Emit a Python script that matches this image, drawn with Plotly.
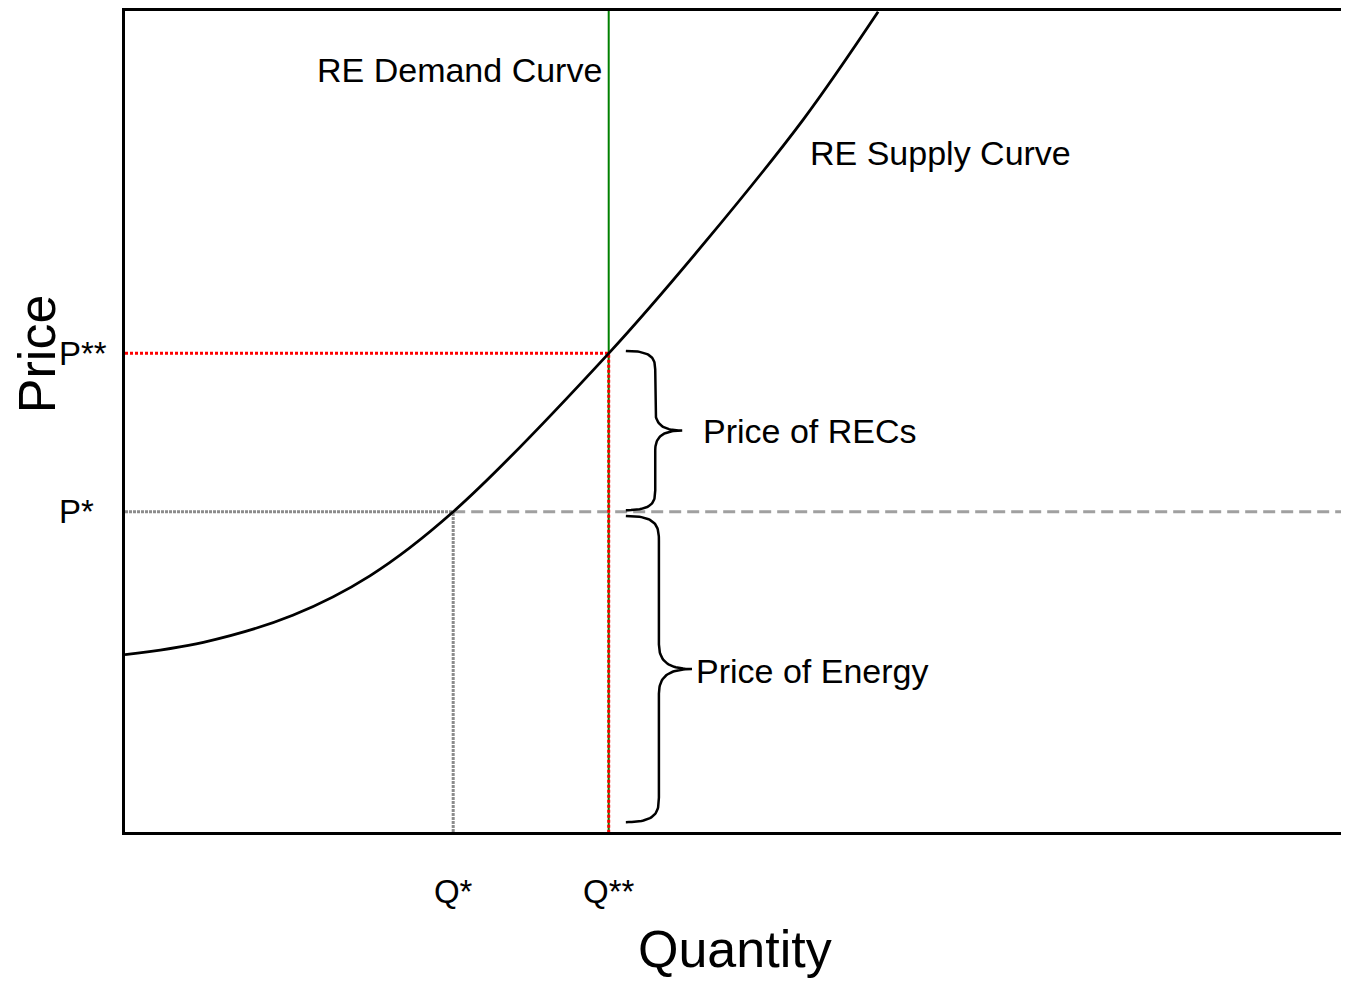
import numpy as np
import plotly.graph_objects as go

# ---- data (abstract units) ----
supply_q = [0, 0.64, 1.37, 2.0, 2.68, 3.95, 4.74, 5.54, 6.15]
supply_p = [2.16, 2.31, 2.64, 3.12, 3.90, 5.83, 7.19, 8.68, 9.99]
q_star = 2.68
q_2star = 3.95
p_star = 3.90
p_2star = 5.83
x_max = 9.93
y_max = 10
q_labels = ["Q*", "Q**"]
p_labels = ["P*", "P**"]

FONT = "Liberation Sans, Arial, sans-serif"


def bezier(p0, p1, p2, p3, n=30):
    t = np.linspace(0, 1, n)[:, None]
    pts = ((1 - t) ** 3) * np.array(p0) + 3 * ((1 - t) ** 2) * t * np.array(p1) \
        + 3 * (1 - t) * t ** 2 * np.array(p2) + t ** 3 * np.array(p3)
    return pts


def brace(x0, xs, xt, yt, yb, r):
    ym = (yt + yb) / 2
    segs = [
        bezier((x0, yt), (xs - 0.02, yt), (xs, yt - r * 0.4), (xs, yt - r)),
        np.array([(xs, yt - r), (xs, ym + r)]),
        bezier((xs, ym + r), (xs, ym + r * 0.3), (xs + (xt - xs) * 0.3, ym), (xt, ym)),
        bezier((xt, ym), (xs + (xt - xs) * 0.3, ym), (xs, ym - r * 0.3), (xs, ym - r)),
        np.array([(xs, ym - r), (xs, yb + r)]),
        bezier((xs, yb + r), (xs, yb + r * 0.4), (xs - 0.02, yb), (x0, yb)),
    ]
    pts = np.vstack(segs)
    return pts[:, 0], pts[:, 1]


fig = go.Figure()

# demand curve (vertical green)
fig.add_trace(go.Scatter(x=[q_2star, q_2star], y=[0, y_max], mode="lines",
                         line=dict(color="#008000", width=2), hoverinfo="skip"))
# P* guide lines
fig.add_trace(go.Scatter(x=[q_star, x_max], y=[p_star, p_star], mode="lines",
                         line=dict(color="#a0a0a0", width=3, dash="12px,6px"), hoverinfo="skip"))
fig.add_trace(go.Scatter(x=[0, q_star], y=[p_star, p_star], mode="lines",
                         line=dict(color="#8c8c8c", width=3, dash="3px,1px"), hoverinfo="skip"))
fig.add_trace(go.Scatter(x=[q_star, q_star], y=[0, p_star], mode="lines",
                         line=dict(color="#8c8c8c", width=3, dash="3px,1px"), hoverinfo="skip"))
# P** guide lines (red dotted)
fig.add_trace(go.Scatter(x=[0, q_2star, q_2star], y=[p_2star, p_2star, 0], mode="lines",
                         line=dict(color="#ff0000", width=3, dash="3px,2px"), hoverinfo="skip"))
# supply curve
fig.add_trace(go.Scatter(x=supply_q, y=supply_p, mode="lines",
                         line=dict(color="black", width=2.8, shape="spline", smoothing=1.0),
                         hoverinfo="skip"))

# braces
bx, by = brace(q_2star + 0.14, q_2star + 0.38, q_2star + 0.60, p_2star + 0.03, p_star + 0.02, 0.24)
fig.add_trace(go.Scatter(x=bx, y=by, mode="lines", line=dict(color="black", width=2.5),
                         hoverinfo="skip"))
bx, by = brace(q_2star + 0.14, q_2star + 0.41, q_2star + 0.68, p_star - 0.05, 0.12, 0.3)
fig.add_trace(go.Scatter(x=bx, y=by, mode="lines", line=dict(color="black", width=2.5),
                         hoverinfo="skip"))

ann = [
    dict(x=q_2star - 0.04, y=9.28, text="RE Demand Curve", xanchor="right", yanchor="middle"),
    dict(x=5.58, y=8.27, text="RE Supply Curve", xanchor="left", yanchor="middle"),
    dict(x=4.70, y=4.88, text="Price of RECs", xanchor="left", yanchor="middle"),
    dict(x=4.65, y=1.96, text="Price of Energy", xanchor="left", yanchor="middle"),
]
for a in ann:
    fig.add_annotation(xref="x", yref="y", showarrow=False,
                       font=dict(family=FONT, size=34, color="black"), **a)

for lab, val in zip(p_labels, [p_star, p_2star]):
    fig.add_annotation(xref="paper", yref="y", x=-0.0559, y=val, text=lab, showarrow=False,
                       xanchor="left", yanchor="middle",
                       font=dict(family=FONT, size=33, color="black"))

fig.add_annotation(xref="paper", yref="paper", x=-0.0724, y=0.582, text="Price", textangle=-90,
                   showarrow=False, xanchor="center", yanchor="middle",
                   font=dict(family=FONT, size=52, color="black"))
fig.add_annotation(xref="paper", yref="paper", x=0.5016, y=-0.1800, text="Quantity",
                   showarrow=False, xanchor="center", yanchor="bottom",
                   font=dict(family=FONT, size=52, color="black"))

fig.update_layout(
    width=1333, height=973,
    margin=dict(l=117, r=0, t=1, b=149),
    paper_bgcolor="white", plot_bgcolor="white",
    showlegend=False,
    xaxis=dict(range=[0, x_max], showgrid=False, zeroline=False, showline=True,
               linecolor="black", linewidth=3, mirror=True,
               tickmode="array", tickvals=[q_star, q_2star], ticktext=q_labels,
               ticks="outside", ticklen=28, tickcolor="rgba(0,0,0,0)",
               tickfont=dict(family=FONT, size=33, color="black")),
    yaxis=dict(range=[0, y_max], showgrid=False, zeroline=False, showline=True,
               linecolor="black", linewidth=3, showticklabels=False, ticks=""),
)

fig.write_html("out.html")
